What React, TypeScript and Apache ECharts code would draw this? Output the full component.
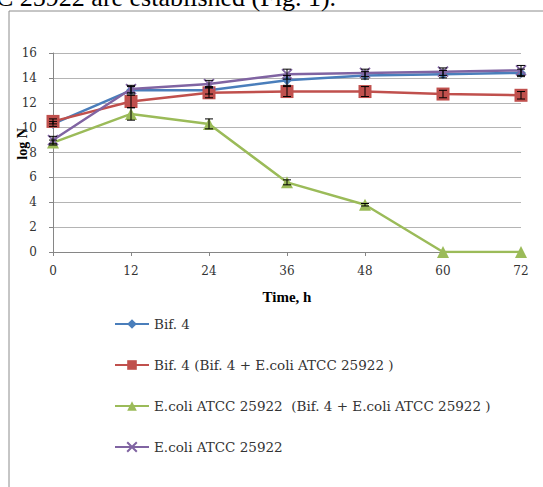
import React, { useEffect, useRef } from "react";
import * as echarts from "echarts";

const times = [0, 12, 24, 36, 48, 60, 72];
const yTicks = [0, 2, 4, 6, 8, 10, 12, 14, 16];

const names = [
  "Bif. 4",
  "Bif. 4 (Bif. 4 + E.coli ATCC 25922 )",
  "E.coli ATCC 25922  (Bif. 4 + E.coli ATCC 25922 )",
  "E.coli ATCC 25922",
];
const colors = ["#4a7ebb", "#c0504d", "#9bbb59", "#8064a2"];

const bif4 = [10.3, 13.0, 13.0, 13.8, 14.2, 14.3, 14.4];
const bif4Mixed = [10.5, 12.1, 12.8, 12.9, 12.9, 12.7, 12.6];
const ecoliMixed = [8.8, 11.1, 10.3, 5.6, 3.8, 0, 0];
const ecoli = [9.0, 13.1, 13.5, 14.3, 14.4, 14.5, 14.6];

const bif4Err = [0.2, 0.3, 0.3, 0.4, 0.3, 0.3, 0.3];
const bif4MixedErr = [0.2, 0.5, 0.4, 0.4, 0.4, 0.3, 0.3];
const ecoliMixedErr = [0.2, 0.5, 0.4, 0.2, 0.1, 0, 0];
const ecoliErr = [0.3, 0.3, 0.3, 0.4, 0.3, 0.3, 0.4];

const seriesValues = [bif4, bif4Mixed, ecoliMixed, ecoli];
const seriesErrs = [bif4Err, bif4MixedErr, ecoliMixedErr, ecoliErr];
const symbols = [
  "diamond",
  "rect",
  "triangle",
  "path://M0,0L10,10M10,0L0,10",
];
const symbolSizes = [10, 13, 12, 10];

const serif = "'DejaVu Serif', 'Liberation Serif', serif";
const timesFont = "'Liberation Serif', 'Times New Roman', serif";

export default function App() {
  const ref = useRef<HTMLDivElement>(null);
  useEffect(() => {
    if (!ref.current) return;
    const chart = echarts.init(ref.current, null, { renderer: "svg" });

    const lineSeries = names.map((name, k) => ({
      type: "line",
      name,
      data: times.map((t, i) => [t, seriesValues[k][i]]),
      symbol: symbols[k],
      symbolSize: symbolSizes[k],
      showAllSymbol: true,
      lineStyle: { color: colors[k], width: 2.5 },
      itemStyle: {
        color: colors[k],
        borderColor: colors[k],
        borderWidth: k === 3 ? 1.8 : 0,
      },
      z: 2 + k,
    }));

    const errSeries = names.map((name, k) => ({
      type: "custom",
      name: name + " err",
      data: times.map((t, i) => [
        t,
        seriesValues[k][i] - seriesErrs[k][i],
        seriesValues[k][i] + seriesErrs[k][i],
      ]),
      encode: { x: 0, y: [1, 2] },
      silent: true,
      z: 10,
      renderItem: (params: any, api: any) => {
        const x = api.value(0);
        const lo = api.coord([x, api.value(1)]);
        const hi = api.coord([x, api.value(2)]);
        if (Math.abs(lo[1] - hi[1]) < 0.5) return null;
        const w = 4;
        const st = { stroke: "#000", lineWidth: 1 };
        return {
          type: "group",
          children: [
            { type: "line", shape: { x1: lo[0], y1: lo[1], x2: hi[0], y2: hi[1] }, style: st },
            { type: "line", shape: { x1: lo[0] - w, y1: lo[1], x2: lo[0] + w, y2: lo[1] }, style: st },
            { type: "line", shape: { x1: hi[0] - w, y1: hi[1], x2: hi[0] + w, y2: hi[1] }, style: st },
          ],
        };
      },
    }));

    chart.setOption({
      animation: false,
      backgroundColor: "#fff",
      grid: { left: 53, right: 22, top: 53, bottom: 235, containLabel: false },
      xAxis: {
        type: "value",
        min: 0,
        max: 72,
        interval: 12,
        name: "Time, h",
        nameLocation: "middle",
        nameGap: 37,
        nameTextStyle: { fontFamily: timesFont, fontWeight: "bold", fontSize: 15, color: "#000" },
        axisLine: { lineStyle: { color: "#868686", width: 1 } },
        axisTick: { show: true, length: 4, lineStyle: { color: "#868686" } },
        splitLine: { show: false },
        axisLabel: { fontFamily: serif, fontSize: 12, color: "#333", margin: 13 },
      },
      yAxis: {
        type: "value",
        min: 0,
        max: 16,
        interval: 2,
        axisLine: { show: true, lineStyle: { color: "#868686", width: 1 } },
        axisTick: { show: true, length: 4, lineStyle: { color: "#868686" } },
        splitLine: { show: true, lineStyle: { color: "#b4b4b4", width: 1 } },
        axisLabel: {
          fontFamily: serif,
          fontSize: 12,
          color: "#333",
          margin: 16,
          formatter: (v: number) => (yTicks.includes(v) ? String(v) : ""),
        },
      },
      legend: {
        data: names,
        orient: "vertical",
        left: 114,
        top: 317,
        padding: 0,
        itemWidth: 34,
        itemHeight: 12,
        itemGap: 27,
        textStyle: { fontFamily: serif, fontSize: 13.5, color: "#333" },
      },
      graphic: [
        {
          type: "rect",
          shape: { x: 9, y: 11, width: 700, height: 700 },
          style: { fill: "none", stroke: "#8c8c8c", lineWidth: 1 },
          silent: true,
          z: -1,
        },
        {
          type: "text",
          x: -4,
          y: 10,
          style: {
            text: "C 25922 are established (Fig. 1).",
            font: "26px 'Liberation Serif', serif",
            fill: "#000",
            textVerticalAlign: "bottom",
          },
        },
        {
          type: "text",
          x: 22,
          y: 144,
          rotation: Math.PI / 2,
          style: {
            text: "log N",
            font: "bold 14px 'Liberation Serif', serif",
            fill: "#000",
            textAlign: "center",
            textVerticalAlign: "middle",
          },
        },
      ],
      series: [...lineSeries, ...errSeries],
    });
    return () => chart.dispose();
  }, []);
  return <div ref={ref} style={{ width: 543, height: 487, position: "absolute", left: 0, top: 0 }} />;
}
